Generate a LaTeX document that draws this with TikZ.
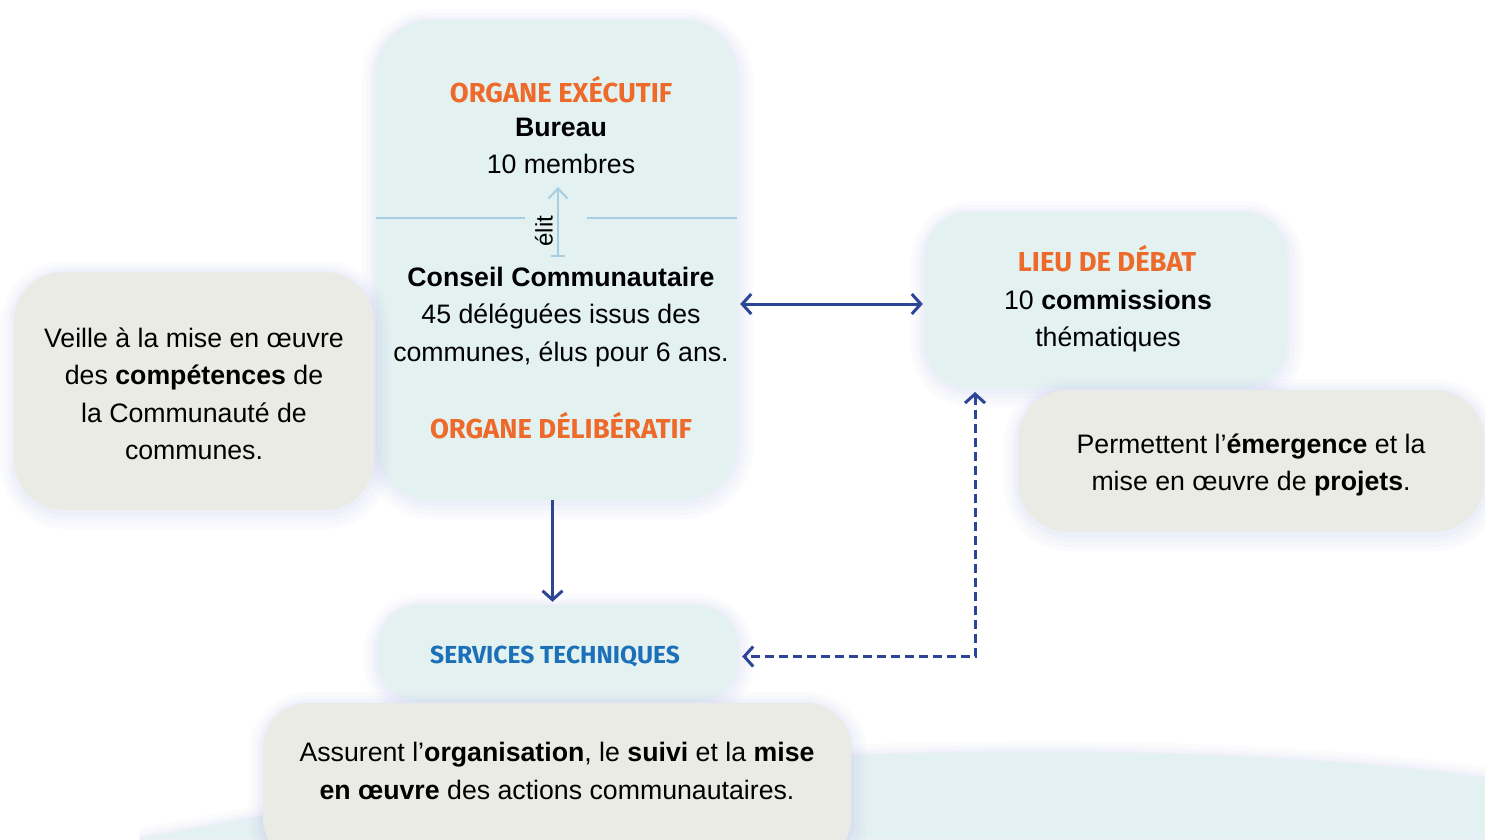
\documentclass[tikz,border=0pt]{standalone}
\usepackage{fontspec}
\setmainfont{Liberation Sans}
\newfontfamily\headfont{Fira Sans}
\usetikzlibrary{arrows.meta}

\definecolor{boxteal}{HTML}{E3F1F1}
\definecolor{boxgrey}{HTML}{EBEBE5}
\definecolor{bgteal}{HTML}{E4F1F2}
\definecolor{glowc}{HTML}{B4B9E6}
\definecolor{headorange}{HTML}{EE6A2A}
\definecolor{headblue}{HTML}{1C70B8}
\definecolor{arrowblue}{HTML}{2C4595}
\definecolor{linkblue}{HTML}{A8CEE3}

\tikzset{
  glow/.style={
    preaction={draw=glowc, draw opacity=0.05, line width=30pt, transform canvas={xshift=1pt,yshift=-4pt}},
    preaction={draw=glowc, draw opacity=0.06, line width=22pt, transform canvas={xshift=1pt,yshift=-4pt}},
    preaction={draw=glowc, draw opacity=0.07, line width=14pt, transform canvas={xshift=1pt,yshift=-3pt}},
    preaction={draw=glowc, draw opacity=0.08, line width=7pt, transform canvas={yshift=-2pt}}},
  tealbox/.style={glow, fill=boxteal, rounded corners=#1, inner sep=0pt},
  tealbox/.default=45pt,
  greybox/.style={glow, fill=boxgrey, rounded corners=#1, inner sep=0pt},
  greybox/.default=48pt,
  body/.style={font=\fontsize{26.7}{37.5}\selectfont, align=center},
  orangehead/.style={font=\headfont\bfseries\fontsize{27.4}{30}\selectfont, text=headorange},
  bluehead/.style={font=\headfont\bfseries\fontsize{24.6}{30}\selectfont, text=headblue},
  barb/.tip={Straight Barb[length=9pt,width=20pt]},
  flow/.style={draw=arrowblue, line width=3pt},
  dashflow/.style={flow, dash pattern=on 9pt off 5pt},
  sepline/.style={draw=linkblue, line width=2pt}
}

\begin{document}
\begin{tikzpicture}[x=1pt,y=-1pt]
\useasboundingbox (0,0) rectangle (1485,839);

% fond en bas
\fill[bgteal, glow] (140,839) .. controls (480,772) and (790,750) .. (1080,752)
  .. controls (1280,755) and (1420,768) .. (1485,778) -- (1485,839) -- cycle;

% cadres
\node[tealbox=55pt, minimum width=361pt, minimum height=480pt] (main) at (556.5,260) {};
\node[greybox=50pt, minimum width=360pt, minimum height=238pt] (veille) at (194,391) {};
\node[tealbox, minimum width=362pt, minimum height=176pt] (lieu) at (1106,300) {};
\node[greybox=50pt, minimum width=466pt, minimum height=142pt] (projets) at (1251,461) {};
\node[tealbox=42pt, minimum width=360pt, minimum height=97pt] (serv) at (558,653.5) {};
\node[greybox=45pt, minimum width=588pt, minimum height=160pt] (actions) at (557,783) {};

% textes
\node[orangehead] (exec) at (561,90) {ORGANE EXÉCUTIF};
\node[body] (bureau) at (561,146) {\textbf{Bureau}\\10 membres};
\node[body] (conseil) at (561,317)
  {\textbf{Conseil Communautaire}\\45 déléguées issus des\\communes, élus pour 6 ans.};
\node[orangehead] (delib) at (561,426) {ORGANE DÉLIBÉRATIF};
\node[body] (veilletxt) at (194,394)
  {Veille à la mise en œuvre\\des \textbf{compétences} de\\la Communauté de\\communes.};
\node[orangehead] (lieuhead) at (1107,259) {LIEU DE DÉBAT};
\node[body] (lieutxt) at (1108,321) {10 \textbf{commissions}\\thématiques};
\node[body] (projetstxt) at (1251,465)
  {Permettent l’\textbf{émergence} et la\\mise en œuvre de \textbf{projets}.};
\node[bluehead] (servtxt) at (555,657) {SERVICES TECHNIQUES};
\node[body] (actionstxt) at (557,771)
  {Assurent l’\textbf{organisation}, le \textbf{suivi} et la \textbf{mise}\\\textbf{en œuvre} des actions communautaires.};

% séparation et élection
\draw[sepline] (main.west |- 0,218) -- (525,218);
\draw[sepline] (587,218) -- (main.east |- 0,218);
\coordinate (elitbot) at (558,257);
\coordinate (elittop) at (558,187);
\draw[sepline, {Bar[width=14pt]}-{Straight Barb[length=10pt,width=19pt]}] (elitbot) -- (elittop);
\node[rotate=90, font=\fontsize{24}{24}\selectfont] (elit) at (544,231) {élit};

% liaisons
\draw[flow, barb-barb, shorten <=3pt, shorten >=2pt] ([yshift=-4pt]lieu.west -| main.east) -- ([yshift=-4pt]lieu.west);
\draw[flow, -barb, shorten >=3pt] ([xshift=-4pt]main.south) -- ([xshift=-4pt]main.south |- serv.north);
\coordinate (dashtop) at (975,388);
\draw[dashflow, barb-barb, shorten <=4pt, shorten >=4pt] (dashtop) |- ([yshift=-3pt]serv.east);
\end{tikzpicture}
\end{document}
